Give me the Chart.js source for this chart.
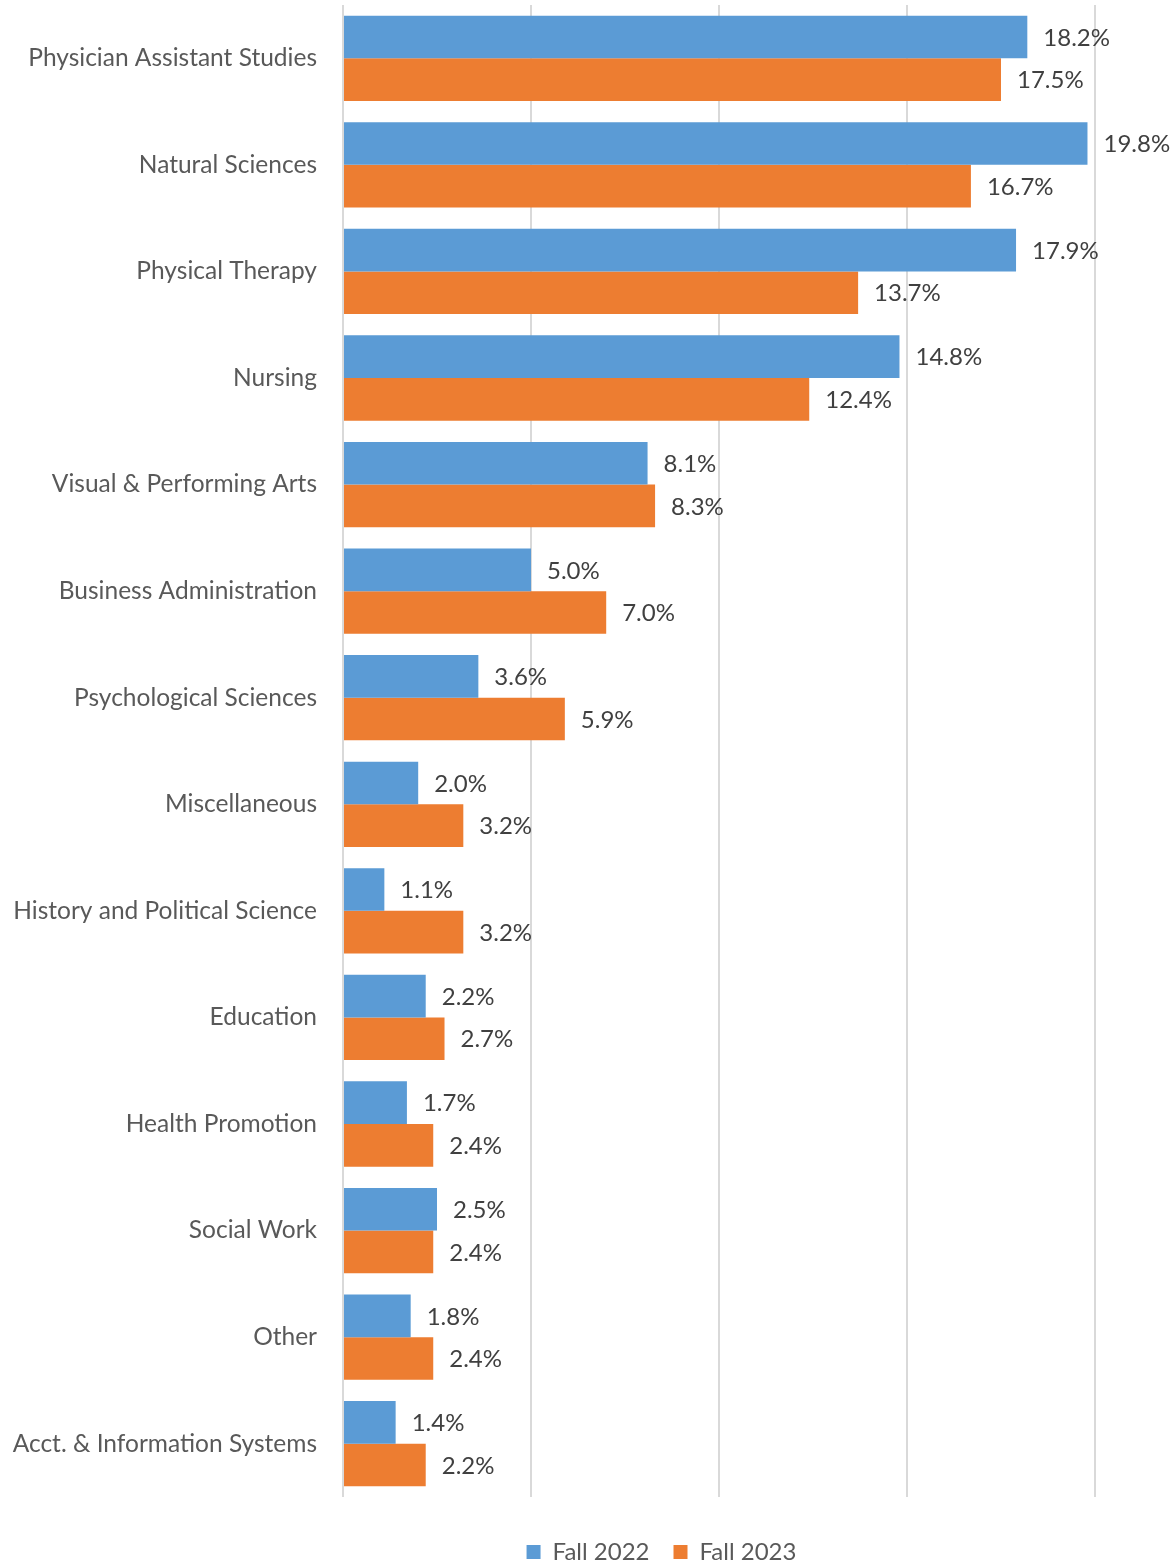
<!DOCTYPE html>
<html>
<head>
<meta charset="utf-8">
<script src="https://cdn.jsdelivr.net/npm/chart.js@4.4.0/dist/chart.umd.min.js"></script>
<style>
html, body { margin: 0; padding: 0; background: #fff; }
#wrap { width: 1176px; height: 1563px; }
</style>
</head>
<body>
<div id="wrap"><canvas id="chart"></canvas></div>
<script>
const categories = [
    'Physician Assistant Studies',
    'Natural Sciences',
    'Physical Therapy',
    'Nursing',
    'Visual & Performing Arts',
    'Business Administration',
    'Psychological Sciences',
    'Miscellaneous',
    'History and Political Science',
    'Education',
    'Health Promotion',
    'Social Work',
    'Other',
    'Acct. & Information Systems'
];
const fall2022 = [18.2, 19.8, 17.9, 14.8, 8.1, 5.0, 3.6, 2.0, 1.1, 2.2, 1.7, 2.5, 1.8, 1.4];
const fall2023 = [17.5, 16.7, 13.7, 12.4, 8.3, 7.0, 5.9, 3.2, 3.2, 2.7, 2.4, 2.4, 2.4, 2.2];
const xTicks = [0, 5, 10, 15, 20];

const Theme = {
    blue: '#5B9BD5',
    orange: '#ED7D31',
    labelText: '#595959',
    valueText: '#404040',
    grid: '#D9D9D9',
    font: 'Lato'
};

// draws "18.2%" style labels just right of each bar
const barValueLabels = {
    id: 'barValueLabels',
    afterDatasetsDraw(chart) {
        const ctx = chart.ctx;
        ctx.save();
        ctx.font = '24px ' + Theme.font;
        ctx.fillStyle = Theme.valueText;
        ctx.textBaseline = 'middle';
        ctx.textAlign = 'left';
        chart.data.datasets.forEach((ds, i) => {
            chart.getDatasetMeta(i).data.forEach((bar, j) => {
                ctx.fillText(ds.data[j].toFixed(1) + '%', bar.x + 16, bar.y + 1);
            });
        });
        ctx.restore();
    }
};

// legend sits a bit right of canvas centre in the original
const legendShift = {
    id: 'legendShift',
    afterLayout(chart) {
        if (!chart.legend) return;
        chart.legend.left += 114;
        chart.legend.right += 114;
    }
};

const ctx = document.getElementById('chart').getContext('2d');
new Chart(ctx, {
    type: 'bar',
    data: {
        labels: categories,
        datasets: [{
            label: 'Fall 2022',
            data: fall2022,
            backgroundColor: Theme.blue,
            categoryPercentage: 0.8,
            barPercentage: 1.0
        },
        {
            label: 'Fall 2023',
            data: fall2023,
            backgroundColor: Theme.orange,
            categoryPercentage: 0.8,
            barPercentage: 1.0
        }]
    },
    options: {
        indexAxis: 'y',
        responsive: true,
        maintainAspectRatio: false,
        devicePixelRatio: 1,
        animation: false,
        layout: { padding: { top: 5, right: 81, left: 0, bottom: 0 } },
        scales: {
            x: {
                min: xTicks[0],
                max: xTicks[xTicks.length - 1],
                afterBuildTicks: scale => { scale.ticks = xTicks.map(v => ({ value: v })); },
                afterFit: scale => { scale.height = 19; },
                ticks: { display: false },
                grid: { color: Theme.grid, lineWidth: 2, drawTicks: false },
                border: { display: false }
            },
            y: {
                afterFit: scale => {
                    scale.width = 343;
                    scale.paddingTop = 0;
                    scale.paddingBottom = 0;
                },
                grid: { display: false, drawTicks: false },
                border: { display: false },
                ticks: {
                    color: Theme.labelText,
                    font: { family: Theme.font, size: 24.5 },
                    padding: 26
                }
            }
        },
        plugins: {
            tooltip: { enabled: false },
            legend: {
                position: 'bottom',
                maxHeight: 47,
                labels: {
                    color: Theme.labelText,
                    font: { family: Theme.font, size: 24 },
                    boxWidth: 14,
                    boxHeight: 14,
                    padding: 24
                }
            }
        }
    },
    plugins: [barValueLabels, legendShift]
});
</script>
</body>
</html>
